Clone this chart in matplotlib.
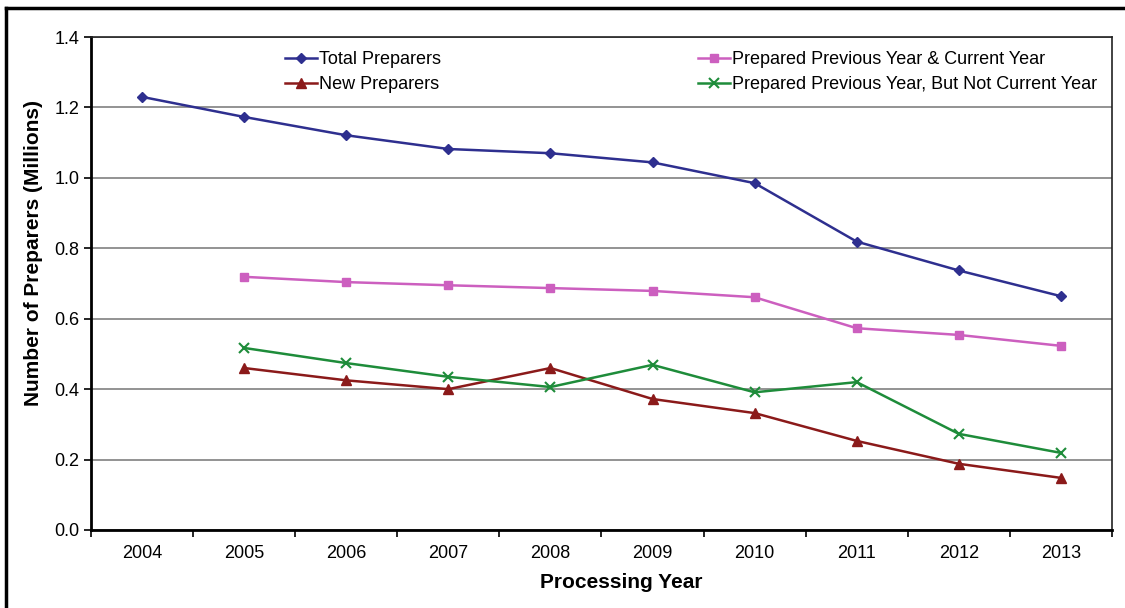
import matplotlib.pyplot as plt
from matplotlib.lines import Line2D

plt.rcParams['font.family'] = ['Liberation Sans', 'DejaVu Sans']

years = ['2004', '2005', '2006', '2007', '2008', '2009', '2010', '2011', '2012', '2013']
total = [1.230, 1.173, 1.121, 1.082, 1.070, 1.044, 0.985, 0.819, 0.737, 0.664]
prev_and_current = [None, 0.719, 0.704, 0.695, 0.687, 0.679, 0.661, 0.573, 0.554, 0.523]
new_preparers = [None, 0.460, 0.425, 0.400, 0.460, 0.372, 0.332, 0.253, 0.188, 0.148]
prev_not_current = [None, 0.517, 0.474, 0.435, 0.406, 0.469, 0.391, 0.420, 0.273, 0.219]

fig = plt.figure(figsize=(11.25, 6.08), dpi=100)
ax = fig.add_axes([0.0809, 0.1283, 0.9075, 0.8108])

x = list(range(len(years)))


def series(vals):
    xs = [i for i, v in zip(x, vals) if v is not None]
    ys = [v for v in vals if v is not None]
    return xs, ys


ax.plot(*series(total), color='#2E2F8F', marker='D', markersize=5, lw=1.8,
        label='Total Preparers')
ax.plot(*series(new_preparers), color='#8B1A1A', marker='^', markersize=7, lw=1.8,
        label='New Preparers')
ax.plot(*series(prev_and_current), color='#CC5FBF', marker='s', markersize=6, lw=1.8,
        label='Prepared Previous Year & Current Year')
ax.plot(*series(prev_not_current), color='#1E8C3A', marker='x', markersize=7,
        markeredgewidth=1.5, lw=1.8, label='Prepared Previous Year, But Not Current Year')

ax.set_xlim(-0.5, len(years) - 0.5)
ax.set_ylim(0, 1.4)
ax.set_yticks([0.0, 0.2, 0.4, 0.6, 0.8, 1.0, 1.2, 1.4])
ax.set_yticklabels([f'{v:.1f}' for v in ax.get_yticks()])
ax.set_xticks(x)
ax.set_xticklabels(years)
ax.set_xticks([i - 0.5 for i in range(len(years) + 1)], minor=True)
ax.tick_params(axis='x', which='major', length=0, pad=11, labelsize=13)
ax.tick_params(axis='x', which='minor', length=5, width=1.2, direction='out')
ax.tick_params(axis='y', length=5, width=1.2, direction='out', labelsize=13)

ax.grid(axis='y', color='#808080', lw=1.2)
ax.set_axisbelow(True)
for side in ['left', 'bottom']:
    ax.spines[side].set_linewidth(2)
for side in ['top', 'right']:
    ax.spines[side].set_linewidth(1.2)
    ax.spines[side].set_color('#222222')

ax.set_xlabel('Processing Year', fontsize=15, fontweight='bold')
ax.set_ylabel('Number of Preparers (Millions)', fontsize=15, fontweight='bold')
ax.xaxis.set_label_coords(0.519, -0.087)
ax.yaxis.set_label_coords(-0.047, 0.561)

ax.legend(loc='upper left', bbox_to_anchor=(0.19, 0.972), ncol=2, frameon=False,
          fontsize=13, handlelength=1.8, handletextpad=0.1, columnspacing=14.2,
          labelspacing=0.48, borderpad=0, borderaxespad=0)

# outer frame on left and top
fig.add_artist(Line2D([0.005, 0.005], [0, 0.987], transform=fig.transFigure,
                      color='black', lw=2.5))
fig.add_artist(Line2D([0.005, 1.0], [0.987, 0.987], transform=fig.transFigure,
                      color='black', lw=2.5))

fig.savefig('out.png', dpi=100)
